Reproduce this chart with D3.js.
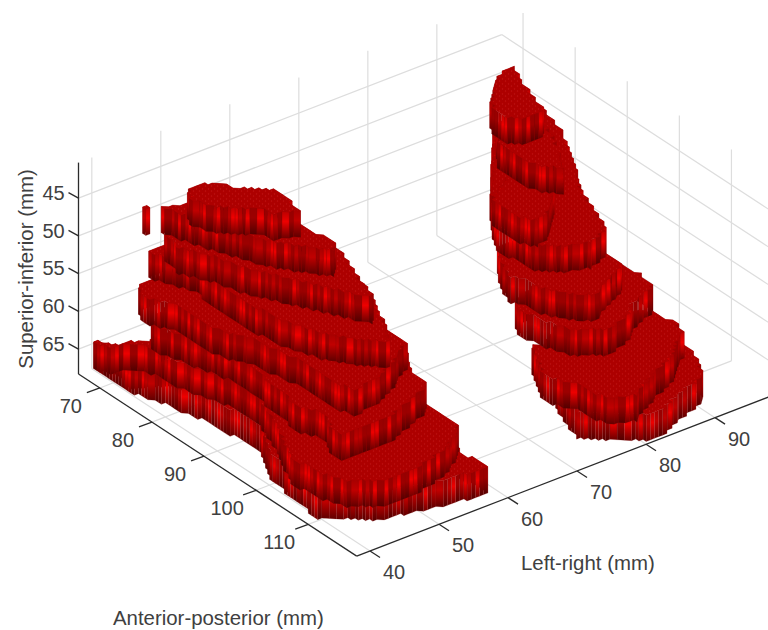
<!DOCTYPE html>
<html>
<head>
<meta charset="utf-8">
<script src="https://cdn.jsdelivr.net/npm/d3@7"></script>
<style>
  html, body { margin: 0; padding: 0; background: #fff; }
  svg { display: block; }
  text { font-family: "Liberation Sans", Arial, sans-serif; fill: #404040; }
</style>
</head>
<body>
<svg id="chart" width="768" height="630"></svg>
<script>
// axis ticks and limits (mm)
const lrTicks = [40, 50, 60, 70, 80, 90];
const apTicks = [70, 80, 90, 100, 110];
const siTicks = [45, 50, 55, 60, 65];
const lrLimits = [38.07, 99.4];
const apLimits = [65.9, 119.3];
const siLimits = [40.3, 68.3];

// top of each slice along superior-inferior, top slice first
const sliceTops = [40.3, 43.8, 47.3, 50.8, 54.3, 57.8, 61.3, 64.8];
const sliceBottom = 3.5;

// slice outlines, [left-right, anterior-posterior] in mm
const leftA = [[43.7,79.8],[45,78.5],[46.3,78.6],[48.1,79.7],[49,81.9],[50.9,83.4],[52.4,85.2],[52.1,87.3],[51.5,90.3],[48.8,89.1],[48.5,87.3],[45.6,85.1],[44.2,83.1],[43.3,81]];
const leftB = [[42.9,75],[43.8,76.5],[44.3,79],[46.3,84.1],[47.9,88.3],[50.2,91.8],[52.8,95.3],[53.7,94],[53.7,91.6],[53.1,88.2],[54.6,83.6],[52.9,79.2],[46.3,76.4],[44.3,75.8]];
const leftBStray = [[41.8,73.5],[42.1,73.8],[41.7,74.3],[41.4,74]];
const leftC = [[43.2,75.7],[42.8,79.1],[44.7,83],[46.1,87.6],[48,91.4],[50,95.1],[52.6,100.6],[53.6,101.7],[54.1,99.7],[55.9,94.4],[57.1,90.9],[57.3,86.7],[53.8,78],[48.5,75.4],[44.1,75.2]];
const leftD = [[43,72.7],[43.7,74.5],[44.8,76.8],[45.5,79],[45,81.6],[44.8,86.5],[45.3,91.2],[45.7,94.5],[46.7,97.6],[47.9,100.6],[50.2,103.9],[52.3,106.4],[54.4,103.1],[55.8,99.7],[58.2,94.3],[58.5,87.2],[54,77.8],[46,73],[43.9,72.5]];
const leftE = [[41.4,73.4],[40,75.2],[40.6,77.2],[41.8,79],[42.2,80.8],[42,85],[42.7,88.5],[44.2,91.1],[44.7,94.5],[45.3,97.5],[45.6,103.7],[46.1,107.9],[50,107.4],[54,105.2],[57.6,102.8],[57.7,101.7],[57.7,99.3],[59,94.5],[60.3,86.7],[54.9,76.6],[46.2,72.7],[42.6,73.2]];
const leftF = [[40.6,76.7],[41.7,80.2],[42.4,83.1],[43.4,86.3],[43.9,89.6],[43.6,93.5],[43.3,97.1],[42.6,101.8],[44,105],[43,107.7],[42.5,110.2],[44.8,110.5],[50.1,110.3],[57.2,107.3],[57.5,105.2],[58,102.7],[60.8,98.4],[61.3,91.5],[54.3,77.3],[45.7,73.4]];
const leftG = [[36.5,71.1],[37,72.4],[37.8,73.3],[39.5,73.5],[40.9,75.4],[41.5,77.4],[41.6,80.4],[42.3,83.2],[43.4,86.4],[43.8,89.7],[43.6,93.4],[42.2,98.1],[40.2,102.5],[38.2,107.3],[39.1,108.9],[39.2,111.3],[40.4,114.3],[44.1,117.2],[48.6,116.9],[54.1,115.4],[58.2,112.1],[58,106.6],[58.4,103.5],[62,90.2],[52.5,79.8],[45.2,74.1],[41.8,74.7],[40,73.2],[38.1,72.9],[37.4,71.8],[36.8,70.8]];
const leftH = [[40.2,66.2],[40.3,68.1],[40.2,70.6],[40.2,73.3],[41,75.4],[41.9,78.1],[42.3,80.8],[43.1,83.5],[43.6,89.1],[43.9,93.4],[41.1,98.6],[40.5,102.3],[39.7,109.5],[44.9,114.2],[47.4,114.7],[53.4,116.4],[58.8,117.1],[58.6,115.8],[58.4,112.2],[59.5,106.9],[51,91.3],[44.7,74.7],[40.9,72.4],[41.8,68],[41.1,66.9],[40.5,65.9]];

const rightA = [[90.7,79],[90.9,79.2],[89.6,82.9],[88.1,88.2],[87.7,89.3],[86.1,89.5],[84.5,89.1],[83.1,87.7],[83.8,84.7],[87.2,80.7],[89.4,79.4]];
const rightB = [[83.1,86.8],[82.8,88],[82.8,90.9],[83.2,94.1],[84.9,96.3],[87.2,92.9],[89.5,87.3],[88.2,84.3],[85.2,84]];
const rightC = [[78.3,92.2],[77.8,94.2],[78,97.3],[79.2,99.4],[81.6,98.4],[84.8,95],[87.6,89.9],[83,89.2]];
const rightD = [[81.9,87.3],[78.3,93],[79.2,95.8],[79.1,98.6],[82.1,101.3],[84.7,102.4],[87.7,101.2],[89.3,97.5],[91,92.1],[94.5,86],[97.5,79.6],[99,74.3],[98,71.2],[91.6,75],[85.6,82.5]];
const rightE = [[79.4,92],[77.5,94.9],[76.2,98.2],[77.1,99.5],[77.5,102.2],[78.9,104.8],[80.3,106.8],[81.7,107.6],[83.4,106.3],[87.6,104.2],[88.3,103.3],[88.4,100.7],[88.6,97.1],[82.2,92.1]];
const rightF = [[76,100],[76.6,102],[77,104.3],[78.4,107.5],[81.5,109.9],[85.2,108.7],[86.9,107.1],[91.8,105],[91.8,104.5],[92.1,101.8],[91.8,101],[91.7,99.1],[90.4,96.7],[82.2,96.1],[77.4,98.2]];
const rightG = [[76.3,102.5],[74.8,105.4],[73.3,108.4],[73.6,111.3],[74.9,112.8],[74.9,115.8],[76.1,118.2],[78.8,119.1],[81.8,117.1],[87.4,114.4],[91.5,110.9],[92.2,108.8],[91.9,105.6],[90.8,103.9],[82.1,100],[76.8,103.8]];
const rightH = [[76.4,107.1],[75.6,110.1],[74.6,113.4],[80.9,118.9],[82.9,118.7],[86,117.3],[91.1,115.4],[93.1,111.7],[93.4,109.3],[93.5,104.1],[85.3,103.5],[78,105]];

const slices = [
  [leftA, rightA],
  [leftB, leftBStray, rightB],
  [leftC, rightC],
  [leftD, rightD],
  [leftE, rightE],
  [leftF, rightF],
  [leftG, rightG],
  [leftH, rightH]
];

// the view: each data axis moves a point along its own screen direction
const origin = [78.5, 374];
const lrDx = d3.scaleLinear().domain(lrLimits).range([0, 423.2]);
const lrDy = d3.scaleLinear().domain(lrLimits).range([0, -163.5]);
const apDx = d3.scaleLinear().domain(apLimits).range([0, 278.2]);
const apDy = d3.scaleLinear().domain(apLimits).range([0, 182.1]);
const siDy = d3.scaleLinear().domain(siLimits).range([-211.4, 0]);

function project(lr, ap, si) {
  return [
    origin[0] + lrDx(lr) + apDx(ap),
    origin[1] + lrDy(lr) + apDy(ap) + siDy(si)
  ];
}

const svg = d3.select("#chart");
const defs = svg.append("defs");

const blur = defs.append("filter").attr("id", "soft")
  .attr("x", "-5%").attr("y", "-5%").attr("width", "110%").attr("height", "110%");
blur.append("feGaussianBlur").attr("stdDeviation", 0.45);

// wall shades: bright, middle, dull stripes
const wallShades = [
  ["#bc0000", "#ee0404", "#6c0000"],
  ["#a80000", "#c00000", "#600000"],
  ["#980000", "#9c0000", "#520000"]
];
wallShades.forEach((shade, i) => {
  const grad = defs.append("linearGradient").attr("id", "wall" + i)
    .attr("x1", 0).attr("y1", 0).attr("x2", 0).attr("y2", 1);
  grad.append("stop").attr("offset", "0%").attr("stop-color", shade[0]);
  grad.append("stop").attr("offset", "38%").attr("stop-color", shade[1]);
  grad.append("stop").attr("offset", "100%").attr("stop-color", shade[2]);
});
// stripes run along the screen, one entry per 3 px column
const stripeOrder = [0, 1, 2, 2, 1, 0, 0, 2, 1, 2, 0, 1, 2, 1, 0, 2, 2, 1];

const dots = defs.append("pattern").attr("id", "surface")
  .attr("patternUnits", "userSpaceOnUse").attr("width", 6).attr("height", 5);
dots.append("rect").attr("width", 6).attr("height", 5).attr("fill", "#ac0303");
dots.append("circle").attr("cx", 1.5).attr("cy", 1.2).attr("r", 1).attr("fill", "#b80808");
dots.append("circle").attr("cx", 4.5).attr("cy", 3.7).attr("r", 1).attr("fill", "#b80808");

// grid
const grid = svg.append("g")
  .attr("fill", "none").attr("stroke", "#dddddd").attr("stroke-width", 1.2);

function gridLine(a, b) {
  grid.append("line")
    .attr("x1", a[0]).attr("y1", a[1])
    .attr("x2", b[0]).attr("y2", b[1]);
}

lrTicks.forEach(t => {
  gridLine(project(t, apLimits[0], siLimits[1]), project(t, apLimits[1], siLimits[1]));
  gridLine(project(t, apLimits[0], siLimits[1]), project(t, apLimits[0], siLimits[0]));
});
apTicks.forEach(t => {
  gridLine(project(lrLimits[0], t, siLimits[1]), project(lrLimits[1], t, siLimits[1]));
  gridLine(project(lrLimits[1], t, siLimits[1]), project(lrLimits[1], t, siLimits[0]));
});
siTicks.forEach(t => {
  gridLine(project(lrLimits[0], apLimits[0], t), project(lrLimits[1], apLimits[0], t));
  gridLine(project(lrLimits[1], apLimits[0], t), project(lrLimits[1], apLimits[1], t));
});

// stair-step an outline on the voxel raster so the edges come out jagged
function voxelize(points) {
  const step = 0.6;
  const out = [];
  points.forEach((p, i) => {
    const q = points[(i + 1) % points.length];
    const n = Math.max(1, Math.ceil(Math.hypot(q[0] - p[0], q[1] - p[1]) / 0.3));
    for (let k = 0; k < n; k++) {
      const lr = p[0] + (q[0] - p[0]) * k / n;
      const ap = p[1] + (q[1] - p[1]) * k / n;
      const snapped = [Math.round(lr / step) * step, Math.round(ap / step) * step];
      const last = out[out.length - 1];
      if (!last || last[0] !== snapped[0] || last[1] !== snapped[1]) out.push(snapped);
    }
  });
  return out;
}

const solid = svg.append("g").attr("filter", "url(#soft)");
const pathLine = d3.line();

// paint from the bottom slice upward so upper ones cover lower ones
d3.range(sliceTops.length - 1, -1, -1).forEach(level => {
  const top = sliceTops[level];
  const bottom = top + sliceBottom;
  const g = solid.append("g");

  slices[level].forEach(outline => {
    const cells = voxelize(outline);
    const walls = cells.map((c, i) => {
      const d = cells[(i + 1) % cells.length];
      const points = [project(c[0], c[1], top), project(d[0], d[1], top), project(d[0], d[1], bottom), project(c[0], c[1], bottom)];
      return { points: points, column: Math.floor((points[0][0] + points[1][0]) / 6) };
    }).sort((a, b) => (a.points[0][1] + a.points[1][1]) - (b.points[0][1] + b.points[1][1]));

    g.selectAll(null).data(walls).enter().append("path")
      .attr("d", d => pathLine(d.points) + "Z")
      .attr("fill", d => "url(#wall" + stripeOrder[(d.column + level * 5) % stripeOrder.length] + ")")
      .attr("stroke", "#8a0000")
      .attr("stroke-width", 0.2);

    g.append("path")
      .attr("d", pathLine(cells.map(c => project(c[0], c[1], top))) + "Z")
      .attr("fill", "url(#surface)")
      .attr("stroke", "#ac0303")
      .attr("stroke-width", 0.4);
  });
});

// axes
const axes = svg.append("g").attr("fill", "none").attr("stroke", "#2b2b2b").attr("stroke-width", 1.3);

function axisLine(a, b) {
  axes.append("line")
    .attr("x1", a[0]).attr("y1", a[1])
    .attr("x2", b[0]).attr("y2", b[1]);
}

const corner = project(lrLimits[0], apLimits[1], siLimits[1]);
axisLine(project(lrLimits[0], apLimits[0], siLimits[0]), project(lrLimits[0], apLimits[0], siLimits[1]));
axisLine(project(lrLimits[0], apLimits[0], siLimits[1]), corner);
axisLine(corner, project(lrLimits[1], apLimits[1], siLimits[1]));

const labels = svg.append("g").attr("font-size", 20).attr("text-anchor", "middle");

function tickLabel(txt, x, y) {
  labels.append("text")
    .attr("x", x).attr("y", y)
    .attr("dy", "0.36em")
    .text(txt);
}

siTicks.forEach(t => {
  const p = project(lrLimits[0], apLimits[0], t);
  axisLine(p, [p[0] - 10, p[1] - 5.4]);
  tickLabel(t, p[0] - 25, p[1] - 5.5);
});
apTicks.forEach(t => {
  const p = project(lrLimits[0], t, siLimits[1]);
  axisLine(p, [p[0] - 13, p[1] + 4.7]);
  tickLabel(t, p[0] - 29, p[1] + 17.5);
});
lrTicks.forEach(t => {
  const p = project(t, apLimits[1], siLimits[1]);
  axisLine(p, [p[0] + 10, p[1] + 6.5]);
  tickLabel(t, p[0] + 24, p[1] + 20.7);
});

svg.append("text").attr("x", 521).attr("y", 570).attr("font-size", 20.4).text("Left-right (mm)");
svg.append("text").attr("x", 113).attr("y", 625).attr("font-size", 20.4).text("Anterior-posterior (mm)");
svg.append("text")
  .attr("transform", "translate(33,269) rotate(-90)")
  .attr("text-anchor", "middle")
  .attr("font-size", 20.4)
  .text("Superior-inferior (mm)");
</script>
</body>
</html>
